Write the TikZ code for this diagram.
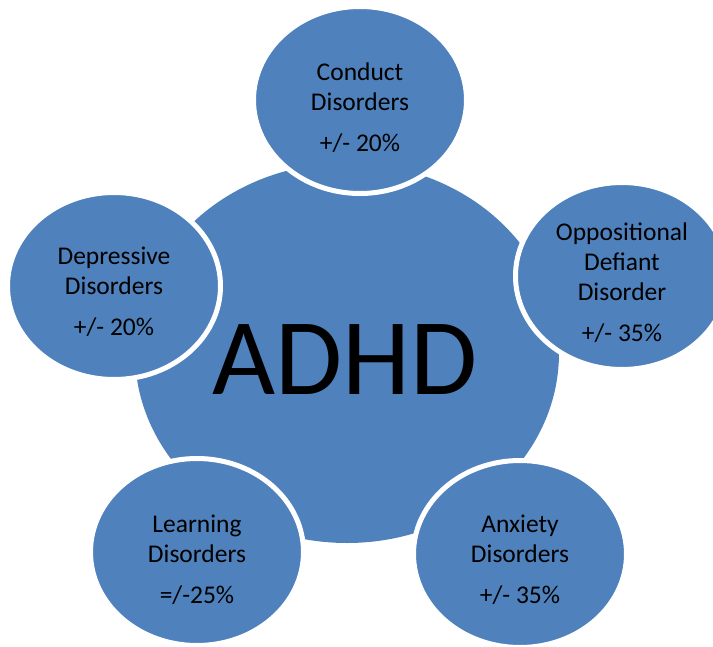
\documentclass[tikz,border=0pt]{standalone}
\usepackage{fontspec}
\setmainfont{Carlito}
\usetikzlibrary{shapes.geometric}
\definecolor{accent}{HTML}{4F81BD}
\begin{document}
\begin{tikzpicture}[x=1pt,y=-1pt,
  hub/.style={ellipse, fill=accent, minimum width=424pt, minimum height=380pt, inner sep=0pt},
  sat/.style={ellipse, fill=accent, draw=white, line width=5pt,
              minimum width=213pt, minimum height=187pt, inner sep=0pt},
  lbl/.style={align=center, font=\fontsize{25.5}{30}\selectfont, text=black, inner sep=0pt},
  big/.style={font=\fontsize{109}{120}\selectfont, text=black, inner sep=0pt},
]
\useasboundingbox (0,0) rectangle (713,646);

% central disc
\node[hub] (adhd) at (347,353) {};

% surrounding discs
\node[sat] (conduct)    at (360,100) {};
\node[sat] (odd)        at (622,276) {};
\node[sat] (anxiety)    at (520,554) {};
\node[sat] (learning)   at (197,552) {};
\node[sat] (depressive) at (114,286) {};

% labels
\node[big] (adhdText) at (345,360) {ADHD};
\node[lbl] (conductText)    at (360,108) {Conduct\\Disorders\\[11pt]+/- 20\%};
\node[lbl] (oddText)        at (622,283) {Oppositional\\Defiant\\Disorder\\[11pt]+/- 35\%};
\node[lbl] (anxietyText)    at (520,560) {Anxiety\\Disorders\\[11pt]+/- 35\%};
\node[lbl] (learningText)   at (197,560) {Learning\\Disorders\\[11pt]=/-25\%};
\node[lbl] (depressiveText) at (114,292) {Depressive\\Disorders\\[11pt]+/- 20\%};
\end{tikzpicture}
\end{document}
